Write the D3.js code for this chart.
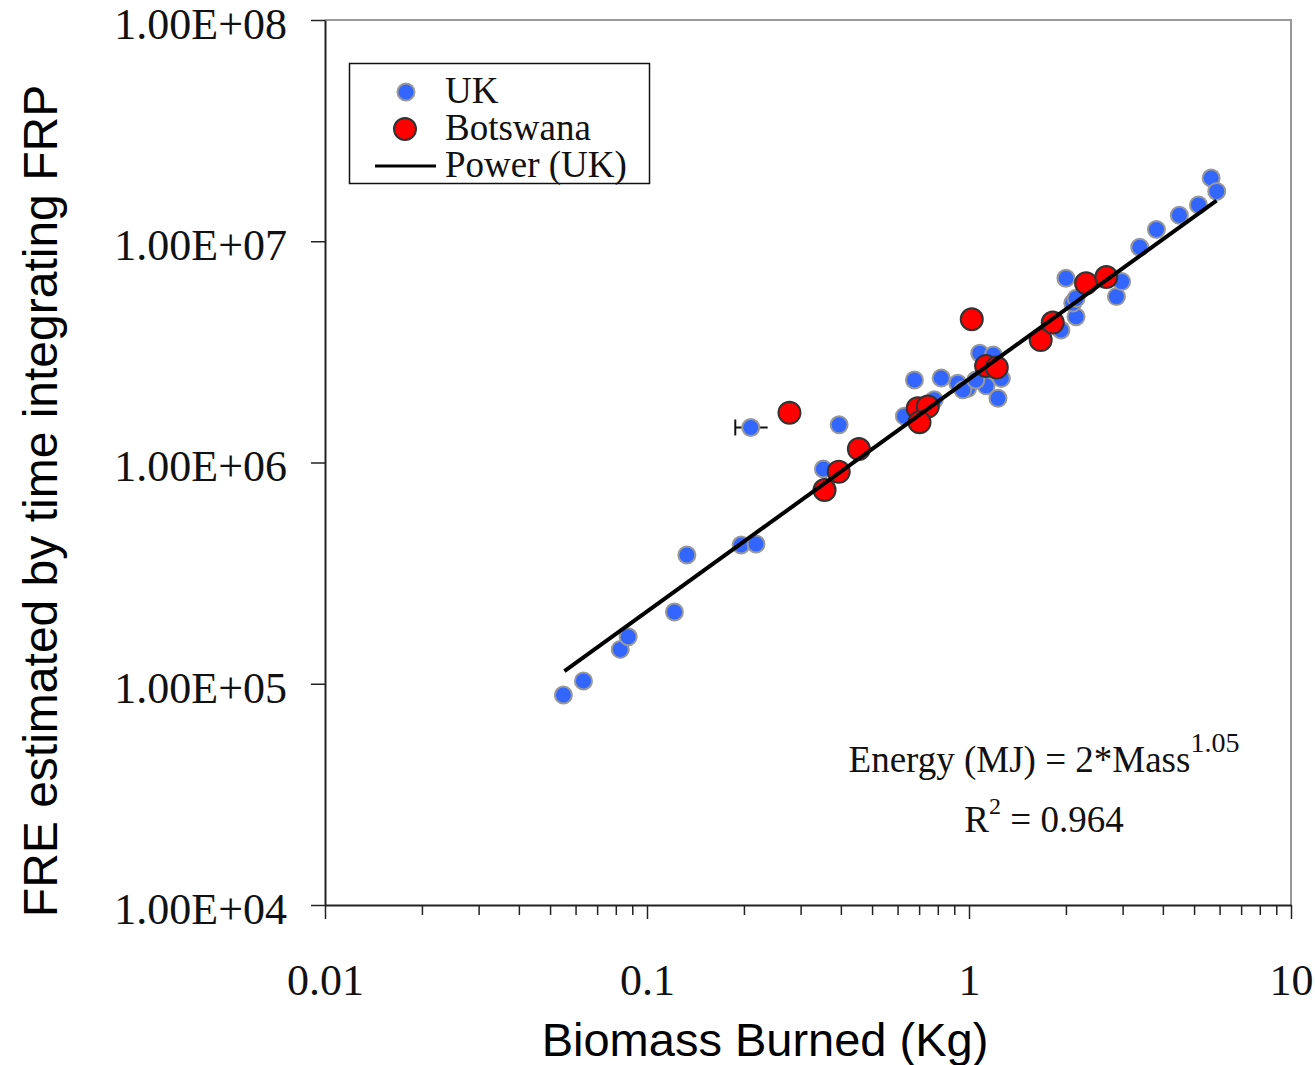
<!DOCTYPE html>
<html>
<head>
<meta charset="utf-8">
<script src="https://cdn.jsdelivr.net/npm/d3@7"></script>
<style>
  body { margin: 0; background: #fff; }
  svg { display: block; }
</style>
</head>
<body>
<div id="chart"></div>
<script>
// data (Biomass burned kg, FRE J)
var ukMass = [0.055, 0.0635, 0.0826, 0.0874, 0.1217, 0.133, 0.196, 0.218, 0.21, 0.395,
  0.353, 0.63, 0.677, 0.82, 0.78, 0.923, 0.99, 0.957, 1.13, 1.23,
  1.08, 1.19, 1.05, 1.26, 1.93, 2.15, 2.1, 2.15, 2.0, 2.87,
  2.98, 3.39, 3.82, 4.5, 5.16, 5.65, 5.88];
var ukEnergy = [8.9e4, 1.03e5, 1.43e5, 1.63e5, 2.11e5, 3.82e5, 4.24e5, 4.28e5, 1.44e6, 1.48e6,
  9.35e5, 1.62e6, 2.36e6, 2.41e6, 1.92e6, 2.28e6, 2.16e6, 2.13e6, 2.22e6, 1.95e6,
  3.12e6, 3.06e6, 2.36e6, 2.4e6, 3.97e6, 4.56e6, 5.26e6, 5.52e6, 6.8e6, 5.62e6,
  6.57e6, 9.39e6, 1.13e7, 1.31e7, 1.46e7, 1.93e7, 1.68e7];
// one x error bar (index 8 of UK)
var ukErrIndex = 8;
var ukErrLow = 0.188, ukErrHigh = 0.237;

var botMass = [0.277, 0.455, 0.394, 0.356, 0.693, 0.745, 0.702, 1.02, 1.13, 1.22,
  1.67, 1.82, 2.31, 2.67];
var botEnergy = [1.68e6, 1.15e6, 9.09e5, 7.51e5, 1.76e6, 1.79e6, 1.52e6, 4.44e6, 2.73e6, 2.69e6,
  3.58e6, 4.29e6, 6.46e6, 6.89e6];

// power fit (UK)
var fitCoef = 2.38e6, fitExp = 1.05;
var fitRange = [0.0554, 5.87];

var xTicks = [0.01, 0.1, 1, 10];
var xTickLabels = ["0.01", "0.1", "1", "10"];
var yTicks = [1e4, 1e5, 1e6, 1e7, 1e8];
var yTickLabels = ["1.00E+04", "1.00E+05", "1.00E+06", "1.00E+07", "1.00E+08"];
var minorSteps = [2, 3, 4, 5, 6, 7, 8, 9];

var serif = "'Liberation Serif', 'Times New Roman', serif";
var sans = "'Liberation Sans', Arial, sans-serif";

var width = 1315, height = 1065;
var plotLeft = 325, plotRight = 1291, plotTop = 20, plotBottom = 905;

var svg = d3.select("#chart").append("svg")
    .attr("width", width)
    .attr("height", height);

var x = d3.scaleLog().domain([0.01, 10]).range([plotLeft, plotRight]);
var y = d3.scaleLog().domain([1e4, 1e8]).range([plotBottom, plotTop]);

// frame (top / right in grey)
svg.append("path")
    .attr("d", "M" + plotLeft + "," + plotTop + "H" + plotRight + "V" + plotBottom)
    .attr("fill", "none")
    .attr("stroke", "#999")
    .attr("stroke-width", 2);

// minor x ticks
var minors = [];
xTicks.slice(0, -1).forEach(function(d) {
  minorSteps.forEach(function(m) { minors.push(d * m); });
});
svg.append("g")
    .attr("transform", "translate(0," + plotBottom + ")")
    .call(d3.axisBottom(x).tickValues(minors).tickSize(10).tickFormat(""))
    .call(function(g) { g.select(".domain").remove(); })
    .selectAll("line").attr("stroke", "#222").attr("stroke-width", 1.5);

// x axis
var gx = svg.append("g")
    .attr("transform", "translate(0," + plotBottom + ")")
    .call(d3.axisBottom(x).tickValues(xTicks).tickSizeInner(14).tickSizeOuter(0)
      .tickFormat(function(d, i) { return xTickLabels[i]; }));
gx.select(".domain").attr("stroke", "#222").attr("stroke-width", 2);
gx.selectAll("line").attr("stroke", "#222").attr("stroke-width", 1.5);
gx.selectAll("text")
    .attr("y", 90).attr("dy", 0)
    .attr("fill", "#111")
    .style("font-family", serif)
    .style("font-size", "44px");

// y axis
var gy = svg.append("g")
    .attr("transform", "translate(" + plotLeft + ",0)")
    .call(d3.axisLeft(y).tickValues(yTicks).tickSizeInner(14).tickSizeOuter(0)
      .tickFormat(function(d, i) { return yTickLabels[i]; }));
gy.select(".domain").attr("stroke", "#222").attr("stroke-width", 2);
gy.selectAll("line").attr("stroke", "#222").attr("stroke-width", 1.5);
gy.selectAll("text")
    .attr("x", -38).attr("dy", "0.42em")
    .attr("fill", "#111")
    .style("font-family", serif)
    .style("font-size", "44px");

// axis titles
svg.append("text")
    .attr("x", 765).attr("y", 1056)
    .attr("text-anchor", "middle")
    .style("font-family", sans).style("font-size", "47px")
    .text("Biomass Burned (Kg)");

svg.append("text")
    .attr("transform", "translate(57,501) rotate(-90)")
    .attr("text-anchor", "middle")
    .style("font-family", sans).style("font-size", "48px")
    .text("FRE estimated by time integrating FRP");

// UK error bar
var ey = y(ukEnergy[ukErrIndex]);
svg.append("line")
    .attr("x1", x(ukErrLow)).attr("x2", x(ukErrHigh))
    .attr("y1", ey).attr("y2", ey)
    .attr("stroke", "#111").attr("stroke-width", 2);
svg.append("line")
    .attr("x1", x(ukErrLow)).attr("x2", x(ukErrLow))
    .attr("y1", ey - 8).attr("y2", ey + 8)
    .attr("stroke", "#111").attr("stroke-width", 2);

// UK points
svg.append("g").selectAll("circle")
    .data(ukMass)
    .enter().append("circle")
    .attr("cx", function(d) { return x(d); })
    .attr("cy", function(d, i) { return y(ukEnergy[i]); })
    .attr("r", 8.5)
    .attr("fill", "#3366ff")
    .attr("stroke", "#999")
    .attr("stroke-width", 2);

// Botswana points
svg.append("g").selectAll("circle")
    .data(botMass)
    .enter().append("circle")
    .attr("cx", function(d) { return x(d); })
    .attr("cy", function(d, i) { return y(botEnergy[i]); })
    .attr("r", 11)
    .attr("fill", "#ff0000")
    .attr("stroke", "#333")
    .attr("stroke-width", 2);

// power trend line
var fitPts = fitRange.map(function(m) { return [m, fitCoef * Math.pow(m, fitExp)]; });
svg.append("path")
    .datum(fitPts)
    .attr("d", d3.line().x(function(d) { return x(d[0]); }).y(function(d) { return y(d[1]); }))
    .attr("fill", "none")
    .attr("stroke", "#000")
    .attr("stroke-width", 4);

// legend
var lg = svg.append("g");
lg.append("rect")
    .attr("x", 349.5).attr("y", 63.5).attr("width", 300).attr("height", 120)
    .attr("fill", "#fff").attr("stroke", "#111").attr("stroke-width", 1.5);
lg.append("circle").attr("cx", 406).attr("cy", 92).attr("r", 8.5)
    .attr("fill", "#3366ff").attr("stroke", "#999").attr("stroke-width", 2);
lg.append("circle").attr("cx", 405).attr("cy", 129).attr("r", 11)
    .attr("fill", "#ff0000").attr("stroke", "#333").attr("stroke-width", 2);
lg.append("line").attr("x1", 375).attr("x2", 436).attr("y1", 166).attr("y2", 166)
    .attr("stroke", "#000").attr("stroke-width", 3);
var legendNames = ["UK", "Botswana", "Power (UK)"];
lg.selectAll("text.lab")
    .data(legendNames)
    .enter().append("text")
    .attr("class", "lab")
    .attr("x", 445)
    .attr("y", function(d, i) { return 103 + i * 37; })
    .style("font-family", serif).style("font-size", "37px")
    .attr("fill", "#111")
    .text(function(d) { return d; });

// equation
var eq = svg.append("text")
    .attr("x", 1044).attr("y", 772)
    .attr("text-anchor", "middle")
    .style("font-family", serif).style("font-size", "37px")
    .attr("fill", "#111");
eq.append("tspan").text("Energy (MJ) = 2*Mass");
eq.append("tspan").attr("dy", -20).style("font-size", "28px").text("1.05");

var r2 = svg.append("text")
    .attr("x", 1044).attr("y", 832)
    .attr("text-anchor", "middle")
    .style("font-family", serif).style("font-size", "37px")
    .attr("fill", "#111");
r2.append("tspan").text("R");
r2.append("tspan").attr("dy", -18).style("font-size", "24px").text("2");
r2.append("tspan").attr("dy", 18).text(" = 0.964");
</script>
</body>
</html>
